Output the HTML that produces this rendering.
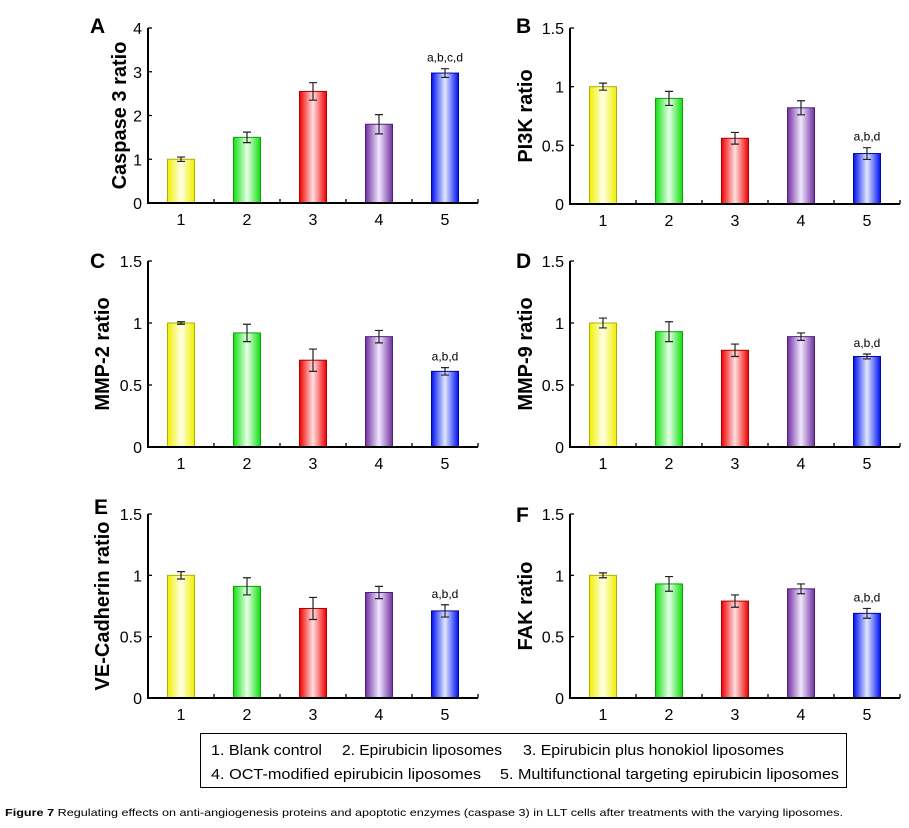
<!DOCTYPE html>
<html><head><meta charset="utf-8"><style>
body{margin:0;background:#fff;}
svg{display:block;font-family:"Liberation Sans",Arial,sans-serif;}
</style></head><body>
<svg id="s" width="909" height="828" viewBox="0 0 909 828" xmlns="http://www.w3.org/2000/svg">
<defs>
<linearGradient id="gY" x1="0" x2="1"><stop offset="0" stop-color="#f0f000"/><stop offset="0.5" stop-color="#ffffe8"/><stop offset="1" stop-color="#f0f000"/></linearGradient>
<linearGradient id="gG" x1="0" x2="1"><stop offset="0" stop-color="#10e010"/><stop offset="0.5" stop-color="#e8ffe8"/><stop offset="1" stop-color="#10e010"/></linearGradient>
<linearGradient id="gR" x1="0" x2="1"><stop offset="0" stop-color="#f00000"/><stop offset="0.5" stop-color="#ffe0e0"/><stop offset="1" stop-color="#f00000"/></linearGradient>
<linearGradient id="gP" x1="0" x2="1"><stop offset="0" stop-color="#7030a0"/><stop offset="0.5" stop-color="#f0e8ff"/><stop offset="1" stop-color="#7030a0"/></linearGradient>
<linearGradient id="gB" x1="0" x2="1"><stop offset="0" stop-color="#0010f0"/><stop offset="0.5" stop-color="#e0e8ff"/><stop offset="1" stop-color="#0010f0"/></linearGradient>
</defs>
<g id="plots"></g>
<rect x="200.5" y="733.5" width="646" height="54" fill="none" stroke="#000" stroke-width="1"/>
<g font-size="15">
<text x="211" y="755" textLength="111" lengthAdjust="spacingAndGlyphs">1. Blank control</text>
<text x="342" y="755" textLength="160" lengthAdjust="spacingAndGlyphs">2. Epirubicin liposomes</text>
<text x="523" y="755" textLength="261" lengthAdjust="spacingAndGlyphs">3. Epirubicin plus honokiol liposomes</text>
<text x="211" y="779" textLength="270" lengthAdjust="spacingAndGlyphs">4. OCT-modified epirubicin liposomes</text>
<text x="500" y="779" textLength="339" lengthAdjust="spacingAndGlyphs">5. Multifunctional targeting epirubicin liposomes</text>
</g>
<text x="5" y="816" font-size="10.5" textLength="838" lengthAdjust="spacingAndGlyphs"><tspan font-weight="bold">Figure 7</tspan> Regulating effects on anti-angiogenesis proteins and apoptotic enzymes (caspase 3) in LLT cells after treatments with the varying liposomes.</text>
</svg>
<script>
var P=[
 {L:"A",t:"Caspase 3 ratio",ax:148,top:28,zero:203,max:4,ticks:[0,1,2,3,4],lab:["0","1","2","3","4"],v:[[1,.05],[1.5,.12],[2.55,.2],[1.8,.22],[2.97,.1]],s:"a,b,c,d",lx:90,ly:33,tx:126},
 {L:"B",t:"PI3K ratio",ax:570,top:28,zero:204,max:1.5,ticks:[0,.5,1,1.5],lab:["0","0.5","1","1.5"],v:[[1,.03],[.9,.06],[.56,.05],[.82,.06],[.43,.05]],s:"a,b,d",lx:516,ly:33,tx:532},
 {L:"C",t:"MMP-2 ratio",ax:148,top:261,zero:447,max:1.5,ticks:[0,.5,1,1.5],lab:["0","0.5","1","1.5"],v:[[1,.01],[.92,.07],[.70,.09],[.89,.05],[.61,.03]],s:"a,b,d",lx:90,ly:268,tx:109},
 {L:"D",t:"MMP-9 ratio",ax:570,top:261,zero:447,max:1.5,ticks:[0,.5,1,1.5],lab:["0","0.5","1","1.5"],v:[[1,.04],[.93,.08],[.78,.05],[.89,.03],[.73,.02]],s:"a,b,d",lx:516,ly:268,tx:532},
 {L:"E",t:"VE-Cadherin ratio",ax:148,top:514,zero:698,max:1.5,ticks:[0,.5,1,1.5],lab:["0","0.5","1","1.5"],v:[[1,.03],[.91,.07],[.73,.09],[.86,.05],[.71,.05]],s:"a,b,d",lx:94,ly:514,tx:109},
 {L:"F",t:"FAK ratio",ax:570,top:514,zero:698,max:1.5,ticks:[0,.5,1,1.5],lab:["0","0.5","1","1.5"],v:[[1,.02],[.93,.06],[.79,.05],[.89,.04],[.69,.04]],s:"a,b,d",lx:516,ly:522,tx:532}
];
var G=["gY","gG","gR","gP","gB"],E=["#b0b000","#10a010","#b00000","#502080","#0008a0"];
var h="";
P.forEach(function(p){
 var sc=(p.zero-p.top)/p.max, W=66, right=p.ax+W*5;
 h+='<text x="'+p.lx+'" y="'+p.ly+'" font-size="21" font-weight="bold">'+p.L+'</text>';
 var cy=(p.top+p.zero)/2;
 h+='<text transform="translate('+p.tx+','+cy+') rotate(-90)" text-anchor="middle" font-size="20" font-weight="bold">'+p.t+'</text>';
 p.ticks.forEach(function(t,i){var y=p.zero-t*sc;
  h+='<line x1="'+p.ax+'" x2="'+(p.ax+4)+'" y1="'+y+'" y2="'+y+'" stroke="#000" stroke-width="1.3"/>';
  h+='<text x="'+(p.ax-6)+'" y="'+(y+6)+'" font-size="16" text-anchor="end">'+p.lab[i]+'</text>';});
 p.v.forEach(function(d,i){var c=p.ax+33+W*i,y=p.zero-d[0]*sc,e=d[1]*sc;
  h+='<rect x="'+(c-13.5)+'" y="'+y+'" width="27" height="'+(p.zero-y)+'" fill="url(#'+G[i]+')" stroke="'+E[i]+'" stroke-width="1"/>';
  h+='<path d="M'+c+' '+(y-e)+'V'+(y+e)+'M'+(c-4)+' '+(y-e)+'H'+(c+4)+'M'+(c-4)+' '+(y+e)+'H'+(c+4)+'" stroke="#222" stroke-width="1.2" fill="none"/>';
  h+='<text x="'+c+'" y="'+(p.zero+22)+'" font-size="16" text-anchor="middle">'+(i+1)+'</text>';
  if(i==4)h+='<text x="'+c+'" y="'+(y-e-7)+'" font-size="12" text-anchor="middle">'+p.s+'</text>';
  h+='<line x1="'+(p.ax+W*(i+1))+'" x2="'+(p.ax+W*(i+1))+'" y1="'+p.zero+'" y2="'+(p.zero-4)+'" stroke="#000" stroke-width="1.3"/>';
 });
 h+='<path d="M'+p.ax+' '+p.top+'V'+p.zero+'H'+right+'" stroke="#000" stroke-width="2" fill="none"/>';
});
document.getElementById("plots").innerHTML=h;
</script>
</body></html>
